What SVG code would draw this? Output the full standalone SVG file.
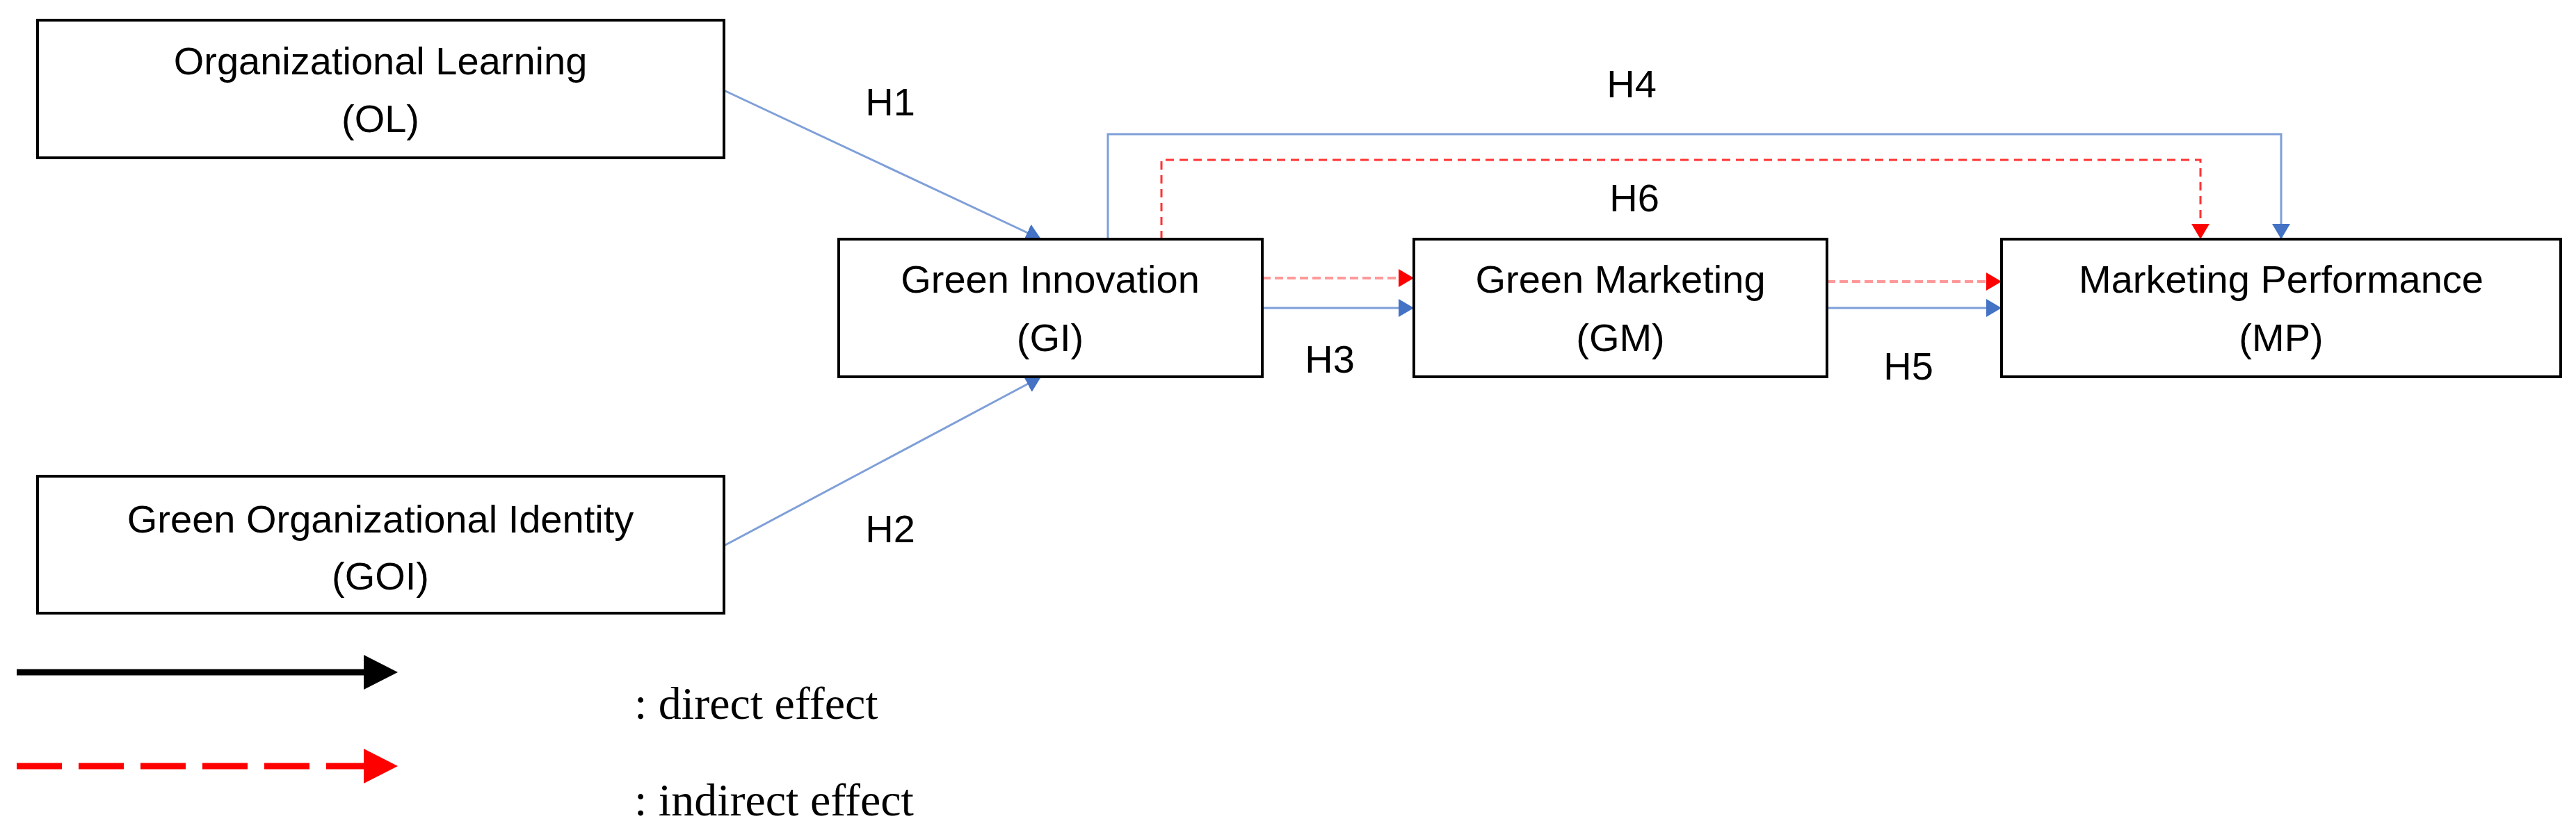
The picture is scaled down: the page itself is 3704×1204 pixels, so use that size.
<svg xmlns="http://www.w3.org/2000/svg" width="3704" height="1204" viewBox="0 0 3704 1204">
<defs>
<style>
.box{fill:#fff;stroke:#000;stroke-width:4}
.t{font-family:"Liberation Sans",Arial,sans-serif;font-size:56px;fill:#000;text-anchor:middle}
.h{font-family:"Liberation Sans",Arial,sans-serif;font-size:56px;fill:#000;text-anchor:middle}
.lg{font-family:"Liberation Serif","Times New Roman",serif;font-size:66px;fill:#000}
.blue{fill:none;stroke:#7f9fd8;stroke-width:3}
.red{fill:none;stroke:#ff3333;stroke-width:3;stroke-dasharray:12 8}
.pink{fill:none;stroke:#ff9999;stroke-width:4;stroke-dasharray:12 6}
</style>
<marker id="ab" viewBox="0 0 10 10" refX="10" refY="5" markerWidth="8" markerHeight="8" orient="auto" markerUnits="userSpaceOnUse"><path d="M0,0L10,5L0,10z" fill="#4472c4" transform="scale(1)"/></marker>
<marker id="ar" viewBox="0 0 10 10" refX="10" refY="5" markerWidth="8" markerHeight="8" orient="auto" markerUnits="userSpaceOnUse"><path d="M0,0L10,5L0,10z" fill="#ff0000"/></marker>
<marker id="abL" viewBox="0 0 10 10" refX="10" refY="5" markerWidth="22" markerHeight="26" orient="auto" markerUnits="userSpaceOnUse" preserveAspectRatio="none"><path d="M0,0L10,5L0,10z" fill="#4472c4"/></marker>
<marker id="arL" viewBox="0 0 10 10" refX="10" refY="5" markerWidth="22" markerHeight="26" orient="auto" markerUnits="userSpaceOnUse" preserveAspectRatio="none"><path d="M0,0L10,5L0,10z" fill="#ff0000"/></marker>
</defs>
<rect width="3704" height="1204" fill="#fff"/>
<g id="connectors">
<line class="blue" x1="1041" y1="130" x2="1497" y2="344" marker-end="url(#abL)"/>
<line class="blue" x1="1041" y1="785" x2="1497" y2="542" marker-end="url(#abL)"/>
<path class="blue" d="M1593,344V193H3280V344" marker-end="url(#abL)"/>
<path class="red" d="M1670,344V230H3164V344" marker-end="url(#arL)"/>
<line class="pink" x1="1815" y1="400" x2="2033" y2="400" marker-end="url(#arL)"/>
<line class="blue" x1="1815" y1="443" x2="2033" y2="443" marker-end="url(#abL)"/>
<line class="pink" x1="2627" y1="405" x2="2878" y2="405" marker-end="url(#arL)"/>
<line class="blue" x1="2627" y1="443" x2="2878" y2="443" marker-end="url(#abL)"/>
</g>
<g id="labels">
<text class="h" x="1280" y="166">H1</text>
<text class="h" x="1280" y="780">H2</text>
<text class="h" x="1912" y="536">H3</text>
<text class="h" x="2346" y="140">H4</text>
<text class="h" x="2744" y="546">H5</text>
<text class="h" x="2350" y="304">H6</text>
</g>
<g id="OL"><rect class="box" x="54" y="29" width="987" height="198"/><text class="t" x="547" y="107">Organizational Learning</text><text class="t" x="547" y="190">(OL)</text></g>
<g id="GOI"><rect class="box" x="54" y="685" width="987" height="197"/><text class="t" x="547" y="766">Green Organizational Identity</text><text class="t" x="547" y="848">(GOI)</text></g>
<g id="GI"><rect class="box" x="1206" y="344" width="609" height="198"/><text class="t" x="1510" y="421">Green Innovation</text><text class="t" x="1510" y="505">(GI)</text></g>
<g id="GM"><rect class="box" x="2033" y="344" width="594" height="198"/><text class="t" x="2330" y="421">Green Marketing</text><text class="t" x="2330" y="505">(GM)</text></g>
<g id="MP"><rect class="box" x="2878" y="344" width="804" height="198"/><text class="t" x="3280" y="421">Marketing Performance</text><text class="t" x="3280" y="505">(MP)</text></g>
<g id="legend">
<line x1="24" y1="967" x2="530" y2="967" stroke="#000" stroke-width="9"/>
<path d="M523,942L572,967L523,992z" fill="#000"/>
<line x1="24" y1="1102" x2="525" y2="1102" stroke="#ff0000" stroke-width="9" stroke-dasharray="65 24"/>
<path d="M523,1077L572,1102L523,1127z" fill="#ff0000"/>
<text class="lg" x="912" y="1034">: direct effect</text>
<text class="lg" x="912" y="1173">: indirect effect</text>
</g>
</svg>
